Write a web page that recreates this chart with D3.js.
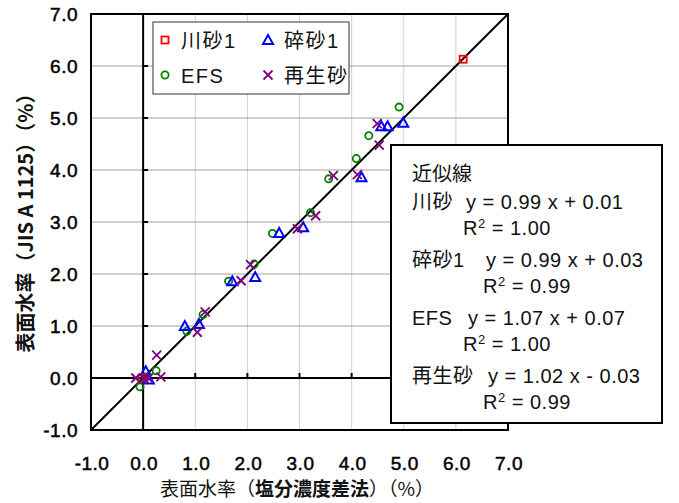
<!DOCTYPE html>
<html lang="ja">
<head>
<meta charset="UTF-8">
<title>表面水率 比較</title>
<script src="https://cdn.jsdelivr.net/npm/d3@7"></script>
<style>
  body { margin: 0; background: #fff; }
  text { font-family: "Liberation Sans", Arial, "Noto Sans CJK JP", sans-serif; }
</style>
</head>
<body>
<svg id="chart" width="679" height="503"></svg>
<script>
// data: [x, y] pairs per sand type
var kawasuna = [[-0.02, 0.0], [6.14, 6.13]];
var saisa = [[0.05, 0.13], [0.11, -0.03], [0.80, 1.00], [1.07, 1.04], [1.71, 1.86], [2.15, 1.94],
  [2.61, 2.79], [3.07, 2.90], [4.19, 3.86], [4.57, 4.84], [4.69, 4.84], [4.99, 4.91]];
var efs = [[-0.06, -0.17], [-0.05, 0.0], [0.05, 0.02], [0.25, 0.14], [0.84, 0.90], [1.15, 1.22],
  [1.64, 1.86], [2.13, 2.19], [2.48, 2.78], [3.21, 3.18], [3.56, 3.83], [4.09, 4.22],
  [4.33, 4.66], [4.91, 5.21]];
var saisei = [[-0.14, 0.0], [0.02, -0.01], [0.10, 0.0], [0.26, 0.44], [0.34, 0.02], [1.04, 0.88],
  [1.19, 1.27], [1.88, 1.87], [2.06, 2.18], [2.96, 2.87], [3.31, 3.12], [3.65, 3.89],
  [4.11, 3.91], [4.49, 4.89], [4.53, 4.48]];
var ticks = [-1, 0, 1, 2, 3, 4, 5, 6, 7];
var legendNames = ["川砂1", "碎砂1", "EFS", "再生砂"];
var fitLines = [
  ["川砂", "y = 0.99 x + 0.01", "R", "= 1.00"],
  ["碎砂1", "y = 0.99 x + 0.03", "R", "= 0.99"],
  ["EFS", "y = 1.07 x + 0.07", "R", "= 1.00"],
  ["再生砂", "y = 1.02 x - 0.03", "R", "= 0.99"]
];

(function () {
  var svg = d3.select("#chart");
  var pl = 91, pr = 508, pt = 14, pb = 430;

  var x = d3.scaleLinear().domain([-1, 7]).range([pl, pr]);
  var y = d3.scaleLinear().domain([-1, 7]).range([pb, pt]);

  // grid
  svg.append("g").selectAll("line").data(ticks.slice(1, -1)).join("line")
    .attr("x1", d => x(d)).attr("x2", d => x(d))
    .attr("y1", pt).attr("y2", pb)
    .attr("stroke", "#d0d0d0").attr("stroke-width", 1);
  svg.append("g").selectAll("line").data(ticks.slice(1, -1)).join("line")
    .attr("y1", d => y(d)).attr("y2", d => y(d))
    .attr("x1", pl).attr("x2", pr)
    .attr("stroke", "#a0a0a0").attr("stroke-width", 1);

  // zero axes with inner ticks
  svg.append("line").attr("x1", x(0)).attr("x2", x(0)).attr("y1", pt).attr("y2", pb)
    .attr("stroke", "#000").attr("stroke-width", 2);
  svg.append("line").attr("y1", y(0)).attr("y2", y(0)).attr("x1", pl).attr("x2", pr)
    .attr("stroke", "#000").attr("stroke-width", 2);
  svg.append("g").selectAll("line").data(ticks).join("line")
    .attr("x1", x(0)).attr("x2", x(0) + 5)
    .attr("y1", d => y(d)).attr("y2", d => y(d))
    .attr("stroke", "#000").attr("stroke-width", 2);
  svg.append("g").selectAll("line").data(ticks).join("line")
    .attr("x1", d => x(d)).attr("x2", d => x(d))
    .attr("y1", y(0)).attr("y2", y(0) - 5)
    .attr("stroke", "#000").attr("stroke-width", 2);

  // y = x line
  svg.append("line")
    .attr("x1", x(-1)).attr("y1", y(-1)).attr("x2", x(7)).attr("y2", y(7))
    .attr("stroke", "#000").attr("stroke-width", 2);

  // frame
  svg.append("rect").attr("x", pl).attr("y", pt)
    .attr("width", pr - pl).attr("height", pb - pt)
    .attr("fill", "none").attr("stroke", "#000").attr("stroke-width", 2);

  // tick labels
  svg.append("g").selectAll("text").data(ticks).join("text")
    .attr("x", d => x(d) + 1).attr("y", 470)
    .attr("text-anchor", "middle").attr("font-size", 19).attr("letter-spacing", 0.5)
    .attr("fill", "#000").attr("stroke", "#000").attr("stroke-width", 0.5)
    .text(d => d.toFixed(1));
  svg.append("g").selectAll("text").data(ticks).join("text")
    .attr("x", 78).attr("y", d => y(d) + 7)
    .attr("text-anchor", "end").attr("font-size", 19).attr("letter-spacing", 0.5)
    .attr("fill", "#000").attr("stroke", "#000").attr("stroke-width", 0.5)
    .text(d => d.toFixed(1));

  // axis titles
  var xt = svg.append("text").attr("x", 297).attr("y", 496)
    .attr("text-anchor", "middle").attr("font-size", 19).attr("fill", "#111")
    .style("font-family", "'Noto Sans CJK JP', sans-serif");
  xt.append("tspan").text("表面水率（");
  xt.append("tspan").attr("font-weight", "bold").text("塩分濃度差法");
  xt.append("tspan").text("）（%）");

  svg.append("text")
    .attr("transform", "translate(33,218) rotate(-90)")
    .attr("text-anchor", "middle").attr("font-size", 20).attr("font-weight", "bold").attr("fill", "#111")
    .style("font-family", "'Noto Sans CJK JP', sans-serif")
    .text("表面水率（JIS A 1125）（%）");

  // markers
  function drawMarker(g, type, cx, cy) {
    if (type === 0) {
      g.append("rect").attr("x", cx - 3.5).attr("y", cy - 3.5).attr("width", 7).attr("height", 7)
        .attr("fill", "none").attr("stroke", "#ff0000").attr("stroke-width", 1.8);
    } else if (type === 1) {
      g.append("path").attr("d", "M" + cx + "," + (cy - 5) + "L" + (cx + 5) + "," + (cy + 4) + "L" + (cx - 5) + "," + (cy + 4) + "Z")
        .attr("fill", "none").attr("stroke", "#0000ff").attr("stroke-width", 2);
    } else if (type === 2) {
      g.append("circle").attr("cx", cx).attr("cy", cy).attr("r", 3.6)
        .attr("fill", "none").attr("stroke", "#008000").attr("stroke-width", 1.8);
    } else {
      g.append("path").attr("d", "M" + (cx - 4.5) + "," + (cy - 4.5) + "L" + (cx + 4.5) + "," + (cy + 4.5) +
        "M" + (cx + 4.5) + "," + (cy - 4.5) + "L" + (cx - 4.5) + "," + (cy + 4.5))
        .attr("fill", "none").attr("stroke", "#800080").attr("stroke-width", 1.8);
    }
  }

  var pts = svg.append("g");
  [efs, saisa, kawasuna, saisei].forEach(function (series, i) {
    var type = [2, 1, 0, 3][i];
    series.forEach(function (p) { drawMarker(pts, type, x(p[0]), y(p[1])); });
  });

  // legend
  var lg = svg.append("g");
  lg.append("rect").attr("x", 153).attr("y", 22).attr("width", 196).attr("height", 72)
    .attr("fill", "#fff").attr("stroke", "#333").attr("stroke-width", 1);
  var legPos = [[165, 40], [268, 40], [165, 75], [268, 75]];
  var legType = [0, 1, 2, 3];
  legendNames.forEach(function (name, i) {
    drawMarker(lg, legType[i], legPos[i][0], legPos[i][1]);
    lg.append("text").attr("x", legPos[i][0] + 16).attr("y", legPos[i][1] + 8)
      .attr("font-size", 20).attr("letter-spacing", 1.5).attr("fill", "#111")
      .style("font-family", "'Liberation Sans', 'Noto Sans CJK JP', sans-serif")
      .text(name);
  });

  // fit box
  var fb = svg.append("g");
  fb.append("rect").attr("x", 391).attr("y", 145).attr("width", 271).attr("height", 278)
    .attr("fill", "#fff").attr("stroke", "#000").attr("stroke-width", 2);
  fb.append("text").attr("x", 412).attr("y", 181).attr("font-size", 20).attr("fill", "#111")
    .style("font-family", "'Noto Sans CJK JP', sans-serif").text("近似線");
  var eqX = [466, 486, 468, 488];
  var r2X = [463, 483, 463, 483];
  fitLines.forEach(function (f, i) {
    var yy = 209 + i * 58;
    fb.append("text").attr("x", 412).attr("y", yy).attr("font-size", 20).attr("fill", "#111")
      .attr("letter-spacing", 0.5)
      .style("font-family", "'Liberation Sans', 'Noto Sans CJK JP', sans-serif").text(f[0]);
    fb.append("text").attr("x", eqX[i]).attr("y", yy).attr("font-size", 20).attr("fill", "#111")
      .attr("letter-spacing", 0.5)
      .text(f[1]);
    var r = fb.append("text").attr("x", r2X[i]).attr("y", yy + 26).attr("font-size", 20).attr("fill", "#111")
      .attr("letter-spacing", 0.5);
    r.append("tspan").text(f[2]);
    r.append("tspan").attr("font-size", 13).attr("dy", -7).text("2");
    r.append("tspan").attr("dy", 7).text(" " + f[3]);
  });
})();
</script>
</body>
</html>
